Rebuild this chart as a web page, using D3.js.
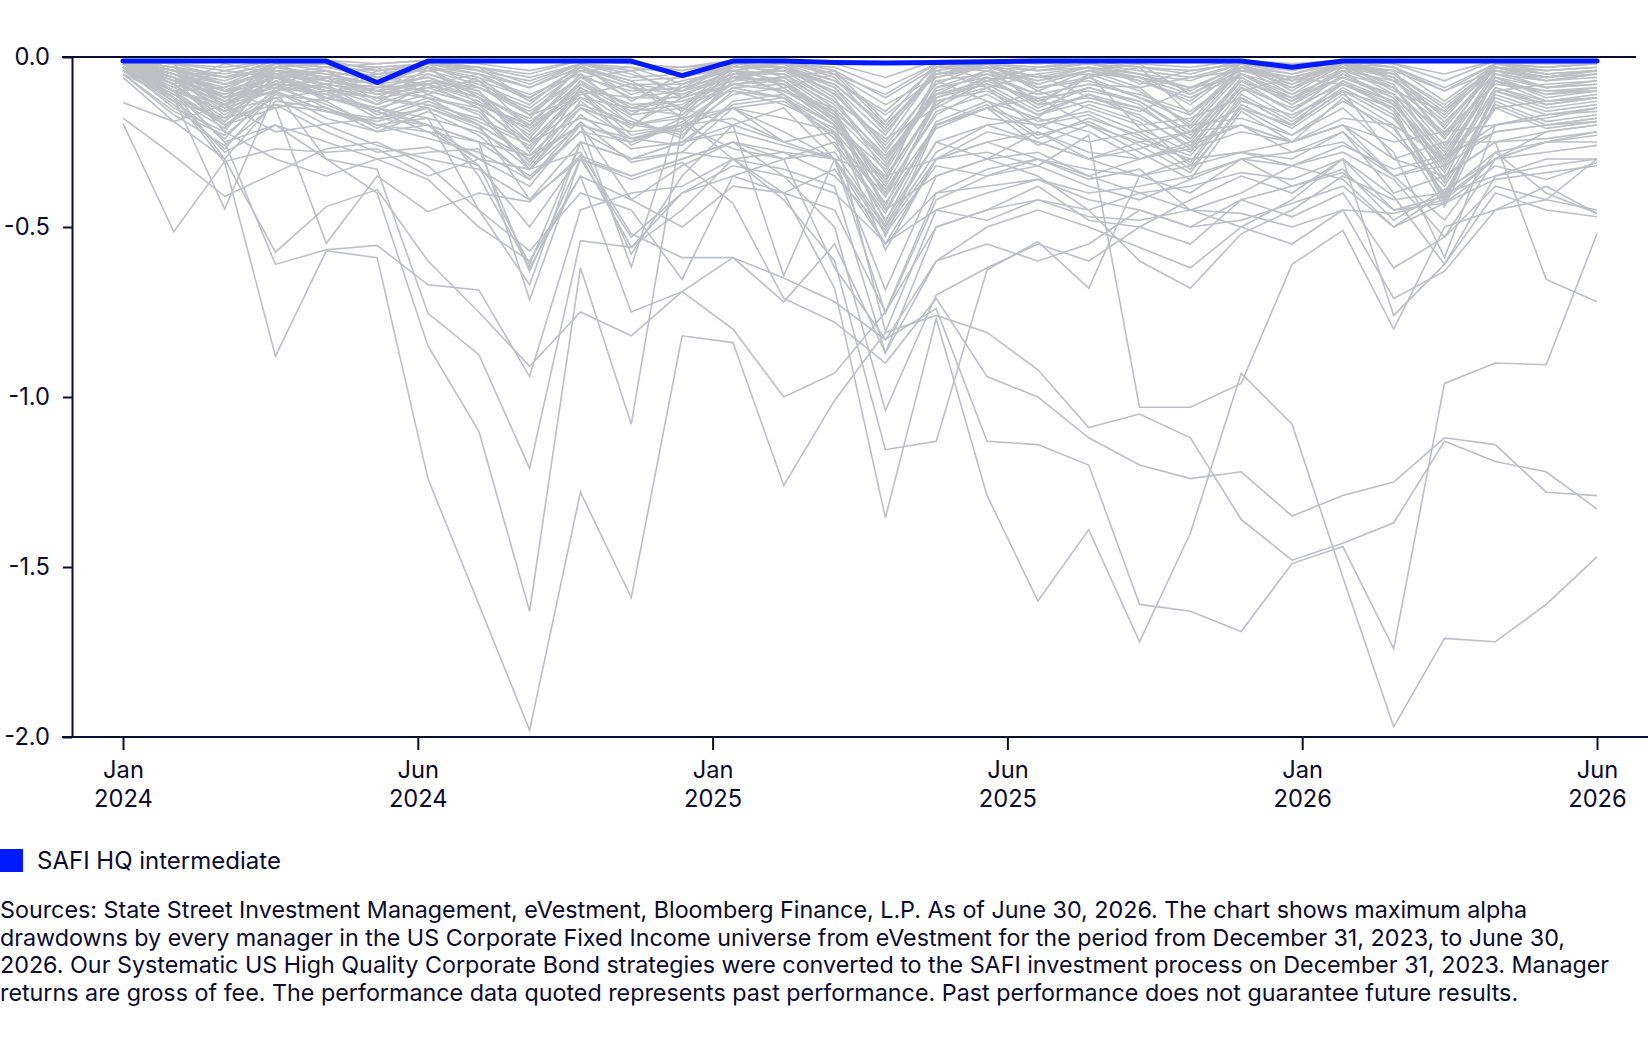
<!DOCTYPE html>
<html>
<head>
<meta charset="utf-8">
<script src="https://cdn.jsdelivr.net/npm/d3@7"></script>
<style>
  body { margin: 0; background: #ffffff; }
  svg text { font-family: Inter, "Noto Sans", sans-serif; fill: #0b0b2e; }
</style>
</head>
<body>
<div id="vis"></div>
<script>
const FRAME_WIDTH = 1648;
const FRAME_HEIGHT = 1054;

// months on the x axis (Jan 2024 .. Jun 2026)
const months = ["2024-01","2024-02","2024-03","2024-04","2024-05","2024-06","2024-07","2024-08","2024-09","2024-10",
  "2024-11","2024-12","2025-01","2025-02","2025-03","2025-04","2025-05","2025-06","2025-07","2025-08",
  "2025-09","2025-10","2025-11","2025-12","2026-01","2026-02","2026-03","2026-04","2026-05","2026-06"];

const tickMonths = ["Jan", "Jun", "Jan", "Jun", "Jan", "Jun"];
const tickYears = ["2024", "2024", "2025", "2025", "2026", "2026"];
const yTicks = [0, -0.5, -1.0, -1.5, -2.0];

// SAFI HQ intermediate
const safi = [-0.012,-0.012,-0.012,-0.012,-0.012,-0.075,-0.012,-0.012,-0.012,-0.012,-0.012,-0.055,-0.012,-0.012,-0.016,-0.018,-0.016,-0.014,-0.012,-0.012,-0.012,-0.012,-0.012,-0.03,-0.012,-0.012,-0.012,-0.012,-0.012,-0.012];

// universe managers, max alpha drawdown
const mgr01 = [-0.05,-0.12,-0.31,-0.88,-0.57,-0.59,-1.24,-1.61,-1.98,-1.28,-1.59,-0.82,-0.84,-1.26,-1.01,-0.81,-0.76,-0.81,-0.92,-1.09,-1.05,-1.12,-1.36,-1.48,-1.43,-1.37,-1.13,-1.19,-1.22,-1.33];
const mgr02 = [-0.02,-0.09,-0.16,-0.12,-0.2,-0.26,-0.3,-0.33,-0.42,-0.3,-0.36,-0.31,-0.43,-0.71,-0.78,-0.90,-0.71,-0.94,-1.00,-1.12,-1.20,-1.24,-1.22,-1.35,-1.29,-1.25,-1.12,-1.14,-1.28,-1.29];
const mgr03 = [-0.01,-0.06,-0.12,-0.08,-0.15,-0.2,-0.22,-0.25,-0.29,-0.2,-0.24,-0.2,-0.27,-0.3,-0.62,-0.83,-0.74,-1.13,-1.14,-1.20,-1.61,-1.63,-1.69,-1.49,-1.44,-1.74,-0.96,-0.90,-0.905,-0.52];
const mgr04 = [-0.03,-0.1,-0.14,-0.1,-0.16,-0.18,-0.2,-0.3,-0.38,-0.2,-0.25,-0.18,-0.3,-0.4,-0.68,-1.355,-0.77,-1.29,-1.60,-1.39,-1.72,-1.40,-0.93,-1.08,-1.53,-1.97,-1.71,-1.72,-1.61,-1.47];
const mgr05 = [-0.02,-0.08,-0.2,-0.1,-0.3,-0.40,-0.85,-1.10,-1.63,-0.62,-1.08,-0.2,-0.15,-0.25,-0.22,-0.48,-0.25,-0.2,-0.18,-0.22,-0.3,-0.26,-0.2,-0.28,-0.22,-0.35,-0.3,-0.2,-0.17,-0.16];
const mgr06 = [-0.01,-0.1,-0.25,-0.2,-0.3,-0.33,-0.754,-0.875,-1.21,-0.54,-0.56,-0.4,-0.35,-0.4,-0.45,-0.75,-0.4,-0.33,-0.3,-0.36,-0.33,-0.45,-0.4,-0.32,-0.36,-0.5,-0.43,-0.32,-0.36,-0.31];
const mgr07 = [-0.02,-0.1,-0.25,-0.61,-0.567,-0.554,-0.67,-0.685,-0.94,-0.45,-0.4,-0.38,-0.3,-0.33,-0.38,-0.87,-0.5,-0.45,-0.38,-0.48,-0.5,-0.55,-0.42,-0.47,-0.4,-0.62,-0.53,-0.38,-0.42,-0.45];
const mgr08 = [-0.02,-0.1,-0.3,-0.574,-0.44,-0.39,-0.60,-0.75,-0.91,-0.75,-0.82,-0.69,-0.59,-0.65,-0.72,-0.832,-0.6,-0.55,-0.6,-0.55,-0.45,-0.5,-0.48,-0.43,-0.38,-0.5,-0.4,-0.35,-0.3,-0.3];
const mgr09 = [-0.01,-0.05,-0.1,-0.15,-0.12,-0.16,-0.2,-0.25,-0.714,-0.3,-0.35,-0.3,-0.25,-0.35,-0.5,-1.04,-0.7,-0.62,-0.55,-0.6,-0.5,-0.42,-0.35,-0.4,-0.3,-0.45,-0.41,-0.3,-0.25,-0.22];
const mgr10 = [-0.02,-0.06,-0.12,-0.09,-0.14,-0.2,-0.18,-0.45,-0.67,-0.25,-0.3,-0.28,-0.3,-0.42,-0.6,-1.155,-1.13,-0.626,-0.543,-0.68,-0.35,-0.3,-0.28,-0.32,-0.26,-0.33,-0.29,-0.22,-0.2,-0.19];
const mgr11 = [-0.01,-0.04,-0.1,-0.06,-0.1,-0.12,-0.15,-0.35,-0.62,-0.35,-0.75,-0.69,-0.80,-1.00,-0.93,-0.75,-0.5,-0.45,-0.42,-0.47,-0.48,-0.45,-0.46,-0.5,-0.45,-0.46,-0.42,-0.3,-0.22,-0.2];
const mgr12 = [-0.01,-0.03,-0.08,-0.05,-0.08,-0.1,-0.12,-0.2,-0.29,-0.15,-0.2,-0.18,-0.15,-0.22,-0.3,-0.55,-0.3,-0.28,-0.32,-0.23,-1.03,-1.03,-0.96,-0.61,-0.51,-0.80,-0.5,-0.45,-0.38,-0.46];
const mgr13 = [-0.01,-0.06,-0.14,-0.05,-0.12,-0.16,-0.22,-0.3,-0.33,-0.28,-0.52,-0.59,-0.59,-0.72,-0.55,-0.87,-0.6,-0.5,-0.45,-0.5,-0.56,-0.62,-0.5,-0.42,-0.3,-0.76,-0.61,-0.4,-0.45,-0.47];
const mgr14 = [-0.195,-0.514,-0.307,-0.27,-0.28,-0.27,-0.35,-0.3,-0.33,-0.2,-0.618,-0.15,-0.2,-0.15,-0.3,-0.35,-0.3,-0.25,-0.22,-0.3,-0.25,-0.3,-0.28,-0.25,-0.2,-0.25,-0.22,-0.2,-0.18,-0.15];
const mgr15 = [-0.18,-0.29,-0.41,-0.34,-0.27,-0.25,-0.32,-0.45,-0.57,-0.4,-0.45,-0.654,-0.35,-0.3,-0.25,-0.45,-0.35,-0.3,-0.28,-0.35,-0.3,-0.25,-0.2,-0.25,-0.2,-0.3,-0.35,-0.25,-0.24,-0.22];
const mgr16 = [-0.134,-0.19,-0.14,-0.22,-0.197,-0.18,-0.15,-0.2,-0.42,-0.25,-0.3,-0.25,-0.2,-0.643,-0.3,-0.5,-0.28,-0.2,-0.25,-0.3,-0.27,-0.22,-0.2,-0.25,-0.18,-0.2,-0.3,-0.15,-0.13,-0.12];
const mgr17 = [-0.01,-0.12,-0.447,-0.1,-0.06,-0.08,-0.12,-0.15,-0.33,-0.15,-0.2,-0.12,-0.08,-0.1,-0.15,-0.528,-0.2,-0.15,-0.1,-0.15,-0.2,-0.18,-0.12,-0.2,-0.1,-0.15,-0.43,-0.1,-0.08,-0.07];
const mgr18 = [-0.01,-0.04,-0.08,-0.05,-0.1,-0.08,-0.1,-0.14,-0.2,-0.1,-0.12,-0.1,-0.06,-0.1,-0.18,-0.45,-0.2,-0.15,-0.12,-0.2,-0.25,-0.22,-0.15,-0.2,-0.1,-0.3,-0.25,-0.25,-0.654,-0.72];
const mgr19 = [-0.02,-0.05,-0.1,-0.06,-0.12,-0.15,-0.2,-0.25,-0.35,-0.22,-0.25,-0.2,-0.18,-0.25,-0.3,-0.685,-0.35,-0.3,-0.35,-0.45,-0.60,-0.68,-0.52,-0.45,-0.35,-0.42,-0.40,-0.28,-0.40,-0.46];
const mgr20 = [-0.01,-0.03,-0.06,-0.04,-0.07,-0.1,-0.08,-0.12,-0.25,-0.12,-0.15,-0.13,-0.1,-0.12,-0.2,-0.568,-0.3,-0.25,-0.3,-0.35,-0.4,-0.45,-0.5,-0.55,-0.45,-0.71,-0.63,-0.45,-0.42,-0.30];
const mgr21 = [-0.03,-0.15,-0.22,-0.3,-0.35,-0.3,-0.36,-0.5,-0.6,-0.35,-0.42,-0.5,-0.38,-0.4,-0.33,-0.55,-0.4,-0.38,-0.36,-0.4,-0.38,-0.35,-0.3,-0.38,-0.33,-0.48,-0.39,-0.3,-0.25,-0.25];
const mgr22 = [-0.01,-0.08,-0.18,-0.14,-0.22,-0.28,-0.265,-0.32,-0.5,-0.29,-0.56,-0.45,-0.3,-0.28,-0.35,-0.509,-0.3,-0.22,-0.25,-0.3,-0.35,-0.32,-0.28,-0.3,-0.22,-0.4,-0.35,-0.25,-0.22,-0.2];
const mgr23 = [-0.02,-0.1,-0.2,-0.15,-0.548,-0.35,-0.455,-0.4,-0.426,-0.29,-0.35,-0.3,-0.25,-0.3,-0.28,-0.494,-0.25,-0.3,-0.22,-0.28,-0.3,-0.27,-0.22,-0.25,-0.2,-0.35,-0.32,-0.22,-0.2,-0.18];
const mgr24 = [-0.01,-0.06,-0.13,-0.1,-0.18,-0.22,-0.2,-0.32,-0.61,-0.25,-0.58,-0.35,-0.2,-0.25,-0.22,-0.484,-0.2,-0.15,-0.2,-0.25,-0.22,-0.2,-0.18,-0.23,-0.15,-0.28,-0.59,-0.2,-0.17,-0.15];
const mgr25 = [-0.03,-0.12,-0.28,-0.2,-0.25,-0.3,-0.28,-0.27,-0.63,-0.3,-0.53,-0.4,-0.32,-0.35,-0.4,-0.547,-0.45,-0.48,-0.42,-0.45,-0.4,-0.38,-0.34,-0.36,-0.3,-0.41,-0.61,-0.35,-0.32,-0.3];
const mgr26 = [-0.01,-0.05,-0.1,-0.08,-0.12,-0.15,-0.18,-0.22,-0.3,-0.2,-0.42,-0.32,-0.25,-0.28,-0.3,-0.518,-0.32,-0.35,-0.3,-0.33,-0.35,-0.4,-0.3,-0.32,-0.28,-0.36,-0.53,-0.3,-0.28,-0.26];
const mgr27 = [-0.02,-0.07,-0.15,-0.1,-0.16,-0.2,-0.24,-0.28,-0.36,-0.22,-0.3,-0.25,-0.22,-0.26,-0.3,-0.753,-0.42,-0.35,-0.32,-0.38,-0.42,-0.36,-0.3,-0.28,-0.25,-0.35,-0.48,-0.28,-0.25,-0.23];
const mgr28 = [-0.01,-0.04,-0.12,-0.06,-0.1,-0.12,-0.14,-0.18,-0.25,-0.18,-0.22,-0.2,-0.15,-0.18,-0.22,-0.808,-0.45,-0.4,-0.36,-0.42,-0.45,-0.5,-0.42,-0.38,-0.34,-0.45,-0.43,-0.36,-0.34,-0.32];
const mgr29 = [-0.01,-0.03,-0.08,-0.02,-0.01,-0.04,-0.02,-0.05,-0.12,-0.03,-0.08,-0.10,-0.02,-0.01,-0.06,-0.22,-0.05,-0.02,-0.06,-0.03,-0.05,-0.10,-0.02,-0.08,-0.01,-0.05,-0.18,-0.02,-0.04,-0.03];
const mgr30 = [-0.02,-0.09,-0.04,-0.06,-0.11,-0.05,-0.03,-0.14,-0.2,-0.06,-0.04,-0.12,-0.07,-0.03,-0.09,-0.27,-0.11,-0.04,-0.13,-0.06,-0.03,-0.17,-0.05,-0.12,-0.04,-0.09,-0.2,-0.03,-0.07,-0.05];
const mgr31 = [-0.01,-0.02,-0.15,-0.03,-0.02,-0.08,-0.01,-0.04,-0.09,-0.02,-0.13,-0.05,-0.01,-0.06,-0.04,-0.19,-0.02,-0.07,-0.03,-0.01,-0.08,-0.04,-0.02,-0.1,-0.01,-0.06,-0.24,-0.02,-0.03,-0.02];
const mgr32 = [-0.03,-0.12,-0.21,-0.05,-0.04,-0.13,-0.07,-0.1,-0.28,-0.09,-0.18,-0.24,-0.05,-0.08,-0.17,-0.44,-0.12,-0.06,-0.15,-0.09,-0.14,-0.25,-0.07,-0.16,-0.05,-0.12,-0.36,-0.06,-0.11,-0.09];
const mgr33 = [-0.02,-0.05,-0.13,-0.09,-0.06,-0.03,-0.11,-0.06,-0.17,-0.12,-0.21,-0.08,-0.04,-0.11,-0.2,-0.33,-0.07,-0.13,-0.18,-0.05,-0.21,-0.28,-0.1,-0.06,-0.08,-0.14,-0.29,-0.07,-0.13,-0.11];
const mgr34 = [-0.01,-0.06,-0.1,-0.02,-0.07,-0.1,-0.04,-0.03,-0.13,-0.04,-0.09,-0.15,-0.02,-0.03,-0.11,-0.25,-0.04,-0.02,-0.09,-0.07,-0.12,-0.19,-0.03,-0.05,-0.02,-0.04,-0.21,-0.03,-0.06,-0.04];
const mgr35 = [-0.04,-0.14,-0.27,-0.1,-0.08,-0.17,-0.12,-0.16,-0.31,-0.1,-0.26,-0.19,-0.09,-0.12,-0.22,-0.39,-0.17,-0.09,-0.21,-0.14,-0.19,-0.32,-0.12,-0.2,-0.07,-0.16,-0.41,-0.1,-0.14,-0.12];
const mgr36 = [-0.01,-0.04,-0.06,-0.03,-0.02,-0.06,-0.02,-0.03,-0.08,-0.02,-0.06,-0.05,-0.03,-0.02,-0.07,-0.16,-0.03,-0.02,-0.04,-0.02,-0.05,-0.07,-0.02,-0.05,-0.01,-0.03,-0.13,-0.02,-0.03,-0.02];
const mgr37 = [-0.02,-0.08,-0.19,-0.04,-0.09,-0.12,-0.05,-0.1,-0.24,-0.07,-0.15,-0.17,-0.04,-0.05,-0.15,-0.31,-0.1,-0.05,-0.11,-0.08,-0.09,-0.21,-0.05,-0.13,-0.03,-0.11,-0.27,-0.05,-0.09,-0.08];
const mgr38 = [-0.05,-0.16,-0.23,-0.11,-0.13,-0.21,-0.14,-0.2,-0.29,-0.15,-0.24,-0.26,-0.13,-0.11,-0.26,-0.46,-0.19,-0.13,-0.23,-0.19,-0.26,-0.34,-0.14,-0.21,-0.11,-0.2,-0.44,-0.13,-0.19,-0.17];
const mgr39 = [-0.01,-0.02,-0.04,-0.01,-0.03,-0.02,-0.01,-0.03,-0.05,-0.01,-0.02,-0.04,-0.01,-0.02,-0.03,-0.09,-0.02,-0.01,-0.02,-0.01,-0.03,-0.05,-0.01,-0.02,-0.01,-0.02,-0.07,-0.01,-0.02,-0.01];
const mgr40 = [-0.03,-0.1,-0.14,-0.05,-0.07,-0.09,-0.08,-0.13,-0.23,-0.07,-0.2,-0.22,-0.07,-0.06,-0.16,-0.41,-0.14,-0.06,-0.14,-0.12,-0.15,-0.24,-0.06,-0.14,-0.04,-0.14,-0.31,-0.06,-0.12,-0.1];
const mgr41 = [-0.02,-0.05,-0.11,-0.06,-0.04,-0.07,-0.05,-0.09,-0.16,-0.06,-0.1,-0.09,-0.05,-0.04,-0.1,-0.28,-0.07,-0.05,-0.08,-0.04,-0.07,-0.12,-0.05,-0.09,-0.04,-0.07,-0.19,-0.05,-0.07,-0.05];
const mgr42 = [-0.06,-0.19,-0.3,-0.13,-0.15,-0.22,-0.16,-0.23,-0.36,-0.19,-0.31,-0.28,-0.15,-0.13,-0.23,-0.43,-0.21,-0.15,-0.26,-0.2,-0.28,-0.36,-0.16,-0.25,-0.12,-0.23,-0.38,-0.15,-0.21,-0.19];
const mgr43 = [-0.01,-0.02,-0.03,-0.01,-0.01,-0.02,-0.01,-0.02,-0.04,-0.01,-0.02,-0.03,-0.01,-0.01,-0.02,-0.06,-0.01,-0.01,-0.02,-0.01,-0.02,-0.03,-0.01,-0.02,-0.01,-0.02,-0.05,-0.01,-0.01,-0.01];
const mgr44 = [-0.02,-0.06,-0.16,-0.03,-0.05,-0.08,-0.06,-0.11,-0.2,-0.05,-0.12,-0.12,-0.03,-0.03,-0.12,-0.34,-0.09,-0.04,-0.09,-0.06,-0.12,-0.17,-0.03,-0.09,-0.02,-0.09,-0.26,-0.04,-0.07,-0.06];
const mgr45 = [-0.03,-0.11,-0.19,-0.07,-0.09,-0.14,-0.09,-0.14,-0.27,-0.1,-0.2,-0.17,-0.08,-0.07,-0.18,-0.36,-0.13,-0.09,-0.17,-0.13,-0.17,-0.27,-0.08,-0.16,-0.07,-0.13,-0.33,-0.09,-0.14,-0.12];
const mgr46 = [-0.01,-0.04,-0.07,-0.02,-0.03,-0.04,-0.03,-0.05,-0.09,-0.03,-0.07,-0.06,-0.03,-0.02,-0.05,-0.2,-0.05,-0.03,-0.04,-0.03,-0.06,-0.09,-0.03,-0.06,-0.02,-0.05,-0.14,-0.03,-0.05,-0.04];
const mgr47 = [-0.04,-0.13,-0.24,-0.09,-0.11,-0.15,-0.11,-0.17,-0.32,-0.13,-0.24,-0.21,-0.11,-0.09,-0.2,-0.4,-0.16,-0.11,-0.19,-0.16,-0.22,-0.31,-0.11,-0.19,-0.09,-0.17,-0.42,-0.11,-0.16,-0.14];
const mgr48 = [-0.02,-0.07,-0.11,-0.04,-0.06,-0.1,-0.07,-0.09,-0.17,-0.06,-0.15,-0.11,-0.05,-0.05,-0.13,-0.3,-0.09,-0.06,-0.11,-0.08,-0.11,-0.16,-0.05,-0.11,-0.05,-0.09,-0.24,-0.06,-0.09,-0.08];
const mgr49 = [-0.01,-0.08,-0.02,-0.05,-0.13,-0.04,-0.02,-0.09,-0.15,-0.04,-0.03,-0.08,-0.02,-0.09,-0.05,-0.14,-0.06,-0.02,-0.1,-0.04,-0.02,-0.11,-0.03,-0.07,-0.02,-0.1,-0.16,-0.02,-0.05,-0.04];
const mgr50 = [-0.03,-0.06,-0.17,-0.08,-0.04,-0.11,-0.09,-0.07,-0.21,-0.11,-0.08,-0.18,-0.06,-0.04,-0.13,-0.24,-0.15,-0.07,-0.05,-0.12,-0.16,-0.09,-0.06,-0.14,-0.06,-0.11,-0.22,-0.08,-0.1,-0.09];
const mgr51 = [-0.02,-0.1,-0.09,-0.03,-0.06,-0.14,-0.03,-0.12,-0.18,-0.03,-0.11,-0.07,-0.04,-0.07,-0.19,-0.37,-0.05,-0.03,-0.14,-0.05,-0.1,-0.2,-0.04,-0.08,-0.03,-0.08,-0.31,-0.04,-0.09,-0.07];
const mgr52 = [-0.01,-0.03,-0.12,-0.02,-0.04,-0.07,-0.03,-0.06,-0.11,-0.05,-0.17,-0.09,-0.02,-0.03,-0.08,-0.21,-0.04,-0.09,-0.05,-0.03,-0.07,-0.13,-0.02,-0.04,-0.01,-0.07,-0.17,-0.03,-0.04,-0.03];
const mgr53 = [-0.04,-0.11,-0.2,-0.12,-0.1,-0.18,-0.13,-0.19,-0.26,-0.14,-0.19,-0.23,-0.1,-0.14,-0.21,-0.35,-0.14,-0.18,-0.2,-0.17,-0.24,-0.29,-0.13,-0.17,-0.1,-0.18,-0.37,-0.12,-0.17,-0.15];
const mgr54 = [-0.01,-0.05,-0.08,-0.04,-0.08,-0.05,-0.04,-0.08,-0.14,-0.02,-0.05,-0.1,-0.04,-0.02,-0.09,-0.23,-0.03,-0.04,-0.07,-0.04,-0.09,-0.06,-0.04,-0.07,-0.03,-0.04,-0.1,-0.04,-0.06,-0.05];
const mgr55 = [-0.02,-0.07,-0.14,-0.07,-0.12,-0.09,-0.06,-0.11,-0.19,-0.08,-0.14,-0.13,-0.08,-0.06,-0.14,-0.29,-0.12,-0.08,-0.12,-0.1,-0.13,-0.22,-0.07,-0.13,-0.06,-0.11,-0.28,-0.07,-0.1,-0.1];
const mgr56 = [-0.03,-0.13,-0.18,-0.06,-0.1,-0.16,-0.08,-0.15,-0.25,-0.1,-0.23,-0.2,-0.09,-0.08,-0.19,-0.38,-0.13,-0.1,-0.17,-0.11,-0.18,-0.26,-0.09,-0.18,-0.08,-0.15,-0.34,-0.1,-0.15,-0.13];
const mgr57 = [-0.01,-0.02,-0.06,-0.01,-0.02,-0.03,-0.02,-0.04,-0.07,-0.02,-0.04,-0.03,-0.02,-0.01,-0.04,-0.12,-0.03,-0.02,-0.03,-0.02,-0.04,-0.06,-0.02,-0.03,-0.02,-0.03,-0.1,-0.02,-0.03,-0.02];
const mgr58 = [-0.05,-0.17,-0.26,-0.14,-0.16,-0.19,-0.15,-0.21,-0.33,-0.17,-0.27,-0.25,-0.14,-0.12,-0.24,-0.41,-0.2,-0.14,-0.24,-0.18,-0.23,-0.33,-0.15,-0.23,-0.13,-0.21,-0.4,-0.14,-0.2,-0.18];
const mgr59 = [-0.02,-0.04,-0.1,-0.05,-0.03,-0.06,-0.08,-0.05,-0.13,-0.04,-0.09,-0.11,-0.06,-0.03,-0.07,-0.17,-0.06,-0.03,-0.06,-0.05,-0.06,-0.11,-0.04,-0.06,-0.03,-0.06,-0.16,-0.04,-0.06,-0.04];
const mgr60 = [-0.03,-0.08,-0.13,-0.05,-0.08,-0.11,-0.07,-0.12,-0.22,-0.08,-0.16,-0.14,-0.06,-0.07,-0.17,-0.32,-0.11,-0.07,-0.13,-0.09,-0.13,-0.23,-0.07,-0.12,-0.06,-0.12,-0.3,-0.07,-0.11,-0.1];
const mgr61 = [-0.02,-0.06,-0.22,-0.03,-0.02,-0.05,-0.03,-0.07,-0.17,-0.03,-0.07,-0.16,-0.03,-0.02,-0.11,-0.26,-0.08,-0.02,-0.08,-0.04,-0.06,-0.14,-0.03,-0.11,-0.02,-0.06,-0.23,-0.03,-0.05,-0.04];
const mgr62 = [-0.01,-0.03,-0.05,-0.02,-0.02,-0.03,-0.02,-0.03,-0.06,-0.02,-0.03,-0.05,-0.02,-0.01,-0.05,-0.11,-0.02,-0.02,-0.03,-0.02,-0.03,-0.04,-0.02,-0.03,-0.01,-0.03,-0.09,-0.02,-0.02,-0.02];
const mgr63 = [-0.04,-0.1,-0.16,-0.08,-0.09,-0.12,-0.1,-0.14,-0.21,-0.09,-0.17,-0.15,-0.08,-0.1,-0.16,-0.3,-0.11,-0.08,-0.16,-0.11,-0.15,-0.24,-0.09,-0.15,-0.08,-0.13,-0.32,-0.09,-0.13,-0.12];
const mgr64 = [-0.02,-0.05,-0.09,-0.04,-0.05,-0.08,-0.03,-0.07,-0.12,-0.03,-0.08,-0.08,-0.03,-0.04,-0.08,-0.2,-0.05,-0.03,-0.07,-0.03,-0.05,-0.09,-0.03,-0.07,-0.03,-0.05,-0.15,-0.03,-0.06,-0.04];

const managers = [mgr01, mgr02, mgr03, mgr04, mgr05, mgr06, mgr07, mgr08, mgr09, mgr10,
  mgr11, mgr12, mgr13, mgr14, mgr15, mgr16, mgr17, mgr18, mgr19, mgr20,
  mgr21, mgr22, mgr23, mgr24, mgr25, mgr26, mgr27, mgr28, mgr29, mgr30,
  mgr31, mgr32, mgr33, mgr34, mgr35, mgr36, mgr37, mgr38, mgr39, mgr40,
  mgr41, mgr42, mgr43, mgr44, mgr45, mgr46, mgr47, mgr48, mgr49, mgr50,
  mgr51, mgr52, mgr53, mgr54, mgr55, mgr56, mgr57, mgr58, mgr59, mgr60,
  mgr61, mgr62, mgr63, mgr64];

const legendLabel = "SAFI HQ intermediate";
const sourceLines = [
  "Sources: State Street Investment Management, eVestment, Bloomberg Finance, L.P. As of June 30, 2026. The chart shows maximum alpha",
  "drawdowns by every manager in the US Corporate Fixed Income universe from eVestment for the period from December 31, 2023, to June 30,",
  "2026. Our Systematic US High Quality Corporate Bond strategies were converted to the SAFI investment process on December 31, 2023. Manager",
  "returns are gross of fee. The performance data quoted represents past performance. Past performance does not guarantee future results."
];

const NAVY = "#0b0b2e";
const GREY = "#bdbfc5";
const BLUE = "#0019ff";

const FRAME = d3.select("#vis")
  .append("svg")
    .attr("width", FRAME_WIDTH)
    .attr("height", FRAME_HEIGHT);

const X_SCALE = d3.scaleLinear()
  .domain([0, months.length - 1])
  .range([123, 1597]);

const Y_SCALE = d3.scaleLinear()
  .domain([-2, 0])
  .range([737, 57]);

const lineGen = d3.line()
  .x((d, i) => X_SCALE(i))
  .y(d => Y_SCALE(d));

// manager lines
FRAME.append("g")
  .selectAll("path")
  .data(managers)
  .enter()
  .append("path")
    .attr("d", lineGen)
    .attr("fill", "none")
    .attr("stroke", GREY)
    .attr("stroke-width", 1.6);

// horizontal lines at 0 and at the bottom
FRAME.append("line")
  .attr("x1", 62).attr("x2", 1636)
  .attr("y1", Y_SCALE(0)).attr("y2", Y_SCALE(0))
  .attr("stroke", NAVY).attr("stroke-width", 2);

FRAME.append("line")
  .attr("x1", 62).attr("x2", 1648)
  .attr("y1", Y_SCALE(-2)).attr("y2", Y_SCALE(-2))
  .attr("stroke", NAVY).attr("stroke-width", 2);

// SAFI line
FRAME.append("path")
  .datum(safi)
  .attr("d", lineGen)
  .attr("fill", "none")
  .attr("stroke", BLUE)
  .attr("stroke-width", 5)
  .attr("stroke-linecap", "round")
  .attr("stroke-linejoin", "round");

// y axis
const yAxis = FRAME.append("g")
  .attr("transform", "translate(72,0)")
  .call(d3.axisLeft(Y_SCALE)
    .tickValues(yTicks)
    .tickSize(9)
    .tickSizeOuter(0)
    .tickPadding(13)
    .tickFormat(d => d.toFixed(1)));
yAxis.select(".domain").attr("stroke", NAVY).attr("stroke-width", 2);
yAxis.selectAll(".tick line").attr("stroke", NAVY).attr("stroke-width", 2);
yAxis.selectAll(".tick text")
  .attr("font-size", 23.7)
  .attr("font-family", "Inter, sans-serif")
  .attr("fill", NAVY);

// x axis, ticks spread evenly over the months
const xTickVals = tickMonths.map((m, i) => i * (months.length - 1) / (tickMonths.length - 1));
const xAxis = FRAME.append("g")
  .attr("transform", "translate(0," + Y_SCALE(-2) + ")")
  .call(d3.axisBottom(X_SCALE)
    .tickValues(xTickVals)
    .tickSize(13)
    .tickSizeOuter(0)
    .tickFormat(""));
xAxis.select(".domain").remove();
xAxis.selectAll(".tick line").attr("stroke", NAVY).attr("stroke-width", 2);
xAxis.selectAll(".tick").each(function(d, i) {
  const t = d3.select(this).append("text")
    .attr("text-anchor", "middle")
    .attr("font-size", 23.7)
    .attr("font-family", "Inter, sans-serif")
    .attr("fill", NAVY);
  t.append("tspan").attr("x", 0).attr("y", 41).text(tickMonths[i]);
  t.append("tspan").attr("x", 0).attr("y", 70).text(tickYears[i]);
});

// legend
FRAME.append("rect")
  .attr("x", 0).attr("y", 849)
  .attr("width", 23).attr("height", 23)
  .attr("fill", BLUE);
FRAME.append("text")
  .attr("x", 37).attr("y", 869)
  .attr("font-size", 24)
  .text(legendLabel);

// source note
FRAME.append("g")
  .selectAll("text")
  .data(sourceLines)
  .enter()
  .append("text")
    .attr("x", 0)
    .attr("y", (d, i) => 918 + i * 27.7)
    .attr("font-size", 23.3)
    .text(d => d);
</script>
</body>
</html>
